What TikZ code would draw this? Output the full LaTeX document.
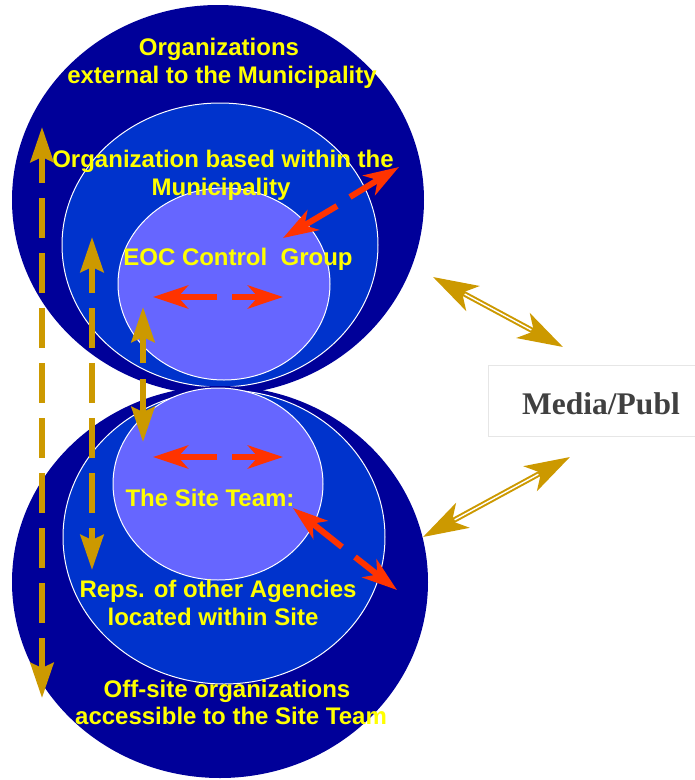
\documentclass[tikz,border=0pt]{standalone}
\usepackage{fontspec}
\setmainfont{Liberation Sans}
\newfontfamily\mediafont{Liberation Serif}
\usetikzlibrary{arrows.meta,calc}
\definecolor{navy}{HTML}{000099}
\definecolor{midblue}{HTML}{0033CC}
\definecolor{lavender}{HTML}{6666FF}
\definecolor{txtyellow}{HTML}{FFFF00}
\definecolor{gold}{HTML}{CC9900}
\definecolor{redor}{HTML}{FF3300}
\definecolor{mediagray}{HTML}{404040}
\definecolor{boxgray}{HTML}{E6E6E6}
\begin{document}
\begin{tikzpicture}[x=1pt,y=-1pt,
  lbl/.style={text=txtyellow,font=\fontsize{24}{28}\selectfont\bfseries,anchor=base,inner sep=0pt},
  outerring/.style={fill=navy},
  midring/.style={fill=midblue,draw=white,line width=1pt},
  innerring/.style={fill=lavender,draw=white,line width=1pt},
  redarr/.style={draw=redor,line width=6pt,-{Stealth[length=35pt,width=23pt,inset=10pt]}},
  goldv/.style={draw=gold,line width=6pt,
     {Stealth[length=35pt,width=23pt,inset=5pt]}-{Stealth[length=35pt,width=23pt,inset=5pt]},
     dash pattern=on 40pt off 15pt},
  golddbl/.style={draw=gold,line width=5.4pt,
     {Stealth[length=45pt,width=28pt,inset=12pt]}-{Stealth[length=45pt,width=28pt,inset=12pt]}},
  goldcore/.style={draw=white,line width=1.4pt,shorten <=36pt,shorten >=36pt},
]
\useasboundingbox (0,0) rectangle (695,780);
% top group
\fill[outerring] (218,200) ellipse [x radius=206, y radius=195];
\path[midring] (220,245) ellipse [x radius=158, y radius=142];
\path[innerring] (224,284) ellipse [x radius=106, y radius=96];
% bottom group
\fill[outerring] (220,582) ellipse [x radius=208, y radius=196];
\path[midring] (224,537) ellipse [x radius=161, y radius=147];
\path[innerring] (218,484) ellipse [x radius=105, y radius=96];

% labels
\node[lbl] (t1) at (219,55) {Organizations};
\node[lbl] (t2) at (222,83) {external to the Municipality};
\node[lbl] (t3) at (223,167) {Organization based within the};
\node[lbl] (t4) at (221,195) {Municipality};
\node[lbl] (t5) at (238,265) {EOC Control\ \ Group};
\node[lbl] (t6) at (210,506) {The Site Team:};
\node[lbl] (t7) at (218,597) {Reps. of other Agencies};
\node[lbl] (t8) at (213,625) {located within Site};
\node[lbl] (t9) at (227,697) {Off-site organizations};
\node[lbl] (t10) at (231,724) {accessible to the Site Team};

% media box
\node[draw=boxgray,fill=white,line width=1pt,anchor=north west,minimum width=215pt,minimum height=71pt,inner sep=0pt] (media) at (488,365) {};
\node[text=mediagray,font=\mediafont\fontsize{31.5}{36}\selectfont\bfseries,anchor=base,inner sep=0pt] (mediatxt) at (601,414) {Media/Publ};

% red arrows: top horizontal
\coordinate (rh1a) at (217,297); \coordinate (rh1b) at (153,297);
\coordinate (rh1c) at (232,297); \coordinate (rh1d) at (283,297);
\draw[redarr] (rh1a) -- (rh1b);
\draw[redarr] (rh1c) -- (rh1d);
% bottom horizontal
\coordinate (rh2a) at (217,457); \coordinate (rh2b) at (153,457);
\coordinate (rh2c) at (232,457); \coordinate (rh2d) at (283,457);
\draw[redarr] (rh2a) -- (rh2b);
\draw[redarr] (rh2c) -- (rh2d);
% top diagonal
\coordinate (rd1a) at (337,206); \coordinate (rd1b) at (283,238);
\coordinate (rd1c) at (350,197); \coordinate (rd1d) at (399,167);
\draw[redarr] (rd1a) -- (rd1b);
\draw[redarr] (rd1c) -- (rd1d);
% bottom diagonal
\coordinate (rd2a) at (342,547); \coordinate (rd2b) at (293,508);
\coordinate (rd2c) at (355,557); \coordinate (rd2d) at (397,590);
\draw[redarr] (rd2a) -- (rd2b);
\draw[redarr] (rd2c) -- (rd2d);

% gold vertical arrows
\coordinate (gv1a) at (42,127); \coordinate (gv1b) at (42,698);
\draw[goldv,dash phase=12pt] (gv1a) -- (gv1b);
\coordinate (gv2a) at (92,237); \coordinate (gv2b) at (92,570);
\draw[goldv,dash phase=12pt] (gv2a) -- (gv2b);
\coordinate (gv3a) at (143,307); \coordinate (gv3b) at (143,442);
\draw[goldv,dash pattern=on 28pt off 16pt on 100pt off 0pt] (gv3a) -- (gv3b);

% gold double arrows to media
\coordinate (gd1a) at (433,277); \coordinate (gd1b) at (563,347);
\draw[golddbl] (gd1a) -- (gd1b);
\draw[goldcore] (gd1a) -- (gd1b);
\coordinate (gd2a) at (423,537); \coordinate (gd2b) at (570,457);
\draw[golddbl] (gd2a) -- (gd2b);
\draw[goldcore] (gd2a) -- (gd2b);
\end{tikzpicture}
\end{document}
